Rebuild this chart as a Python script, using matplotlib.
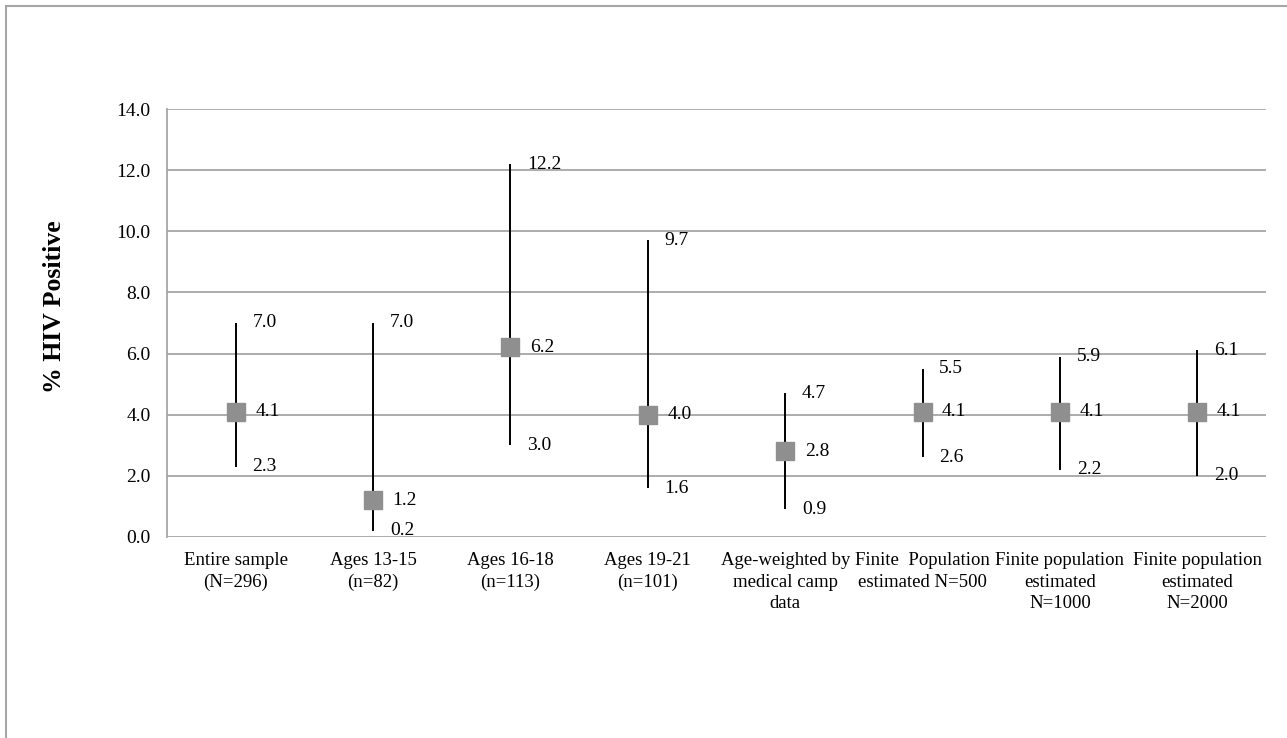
import matplotlib
matplotlib.use("Agg")
import matplotlib.pyplot as plt
from matplotlib.patches import Rectangle
import numpy as np

categories = [
    "Entire sample\n(N=296)",
    "Ages 13-15\n(n=82)",
    "Ages 16-18\n(n=113)",
    "Ages 19-21\n(n=101)",
    "Age-weighted by\nmedical camp\ndata",
    "Finite  Population\nestimated N=500",
    "Finite population\nestimated\nN=1000",
    "Finite population\nestimated\nN=2000",
]
means = [4.1, 1.2, 6.2, 4.0, 2.8, 4.1, 4.1, 4.1]
lower = [2.3, 0.2, 3.0, 1.6, 0.9, 2.6, 2.2, 2.0]
upper = [7.0, 7.0, 12.2, 9.7, 4.7, 5.5, 5.9, 6.1]


def main():
    plt.rcParams["font.family"] = ["Liberation Serif", "DejaVu Serif"]

    fig = plt.figure(figsize=(12.87, 7.38), dpi=100)
    ax = fig.add_axes([0.1298, 0.2724, 0.8539, 0.5799])

    x = np.arange(len(categories))
    ax.vlines(x, lower, upper, color="black", linewidth=1.4, zorder=3)
    ax.plot(x, means, linestyle="none", marker="s", markersize=12.5,
            color="#8f8f8f", zorder=4)

    # value labels, offset a little to the right of each whisker
    for xi, m, lo, hi in zip(x, means, lower, upper):
        ax.annotate(f"{hi:.1f}", (xi, hi), xytext=(12, 0), textcoords="offset points",
                    va="center", ha="left", fontsize=14)
        ax.annotate(f"{m:.1f}", (xi, m), xytext=(14, 0), textcoords="offset points",
                    va="center", ha="left", fontsize=14)
        ax.annotate(f"{lo:.1f}", (xi, lo), xytext=(12, 0), textcoords="offset points",
                    va="center", ha="left", fontsize=14)

    ax.set_xlim(-0.5, len(categories) - 0.5)
    ax.set_ylim(0, 14)
    ax.set_yticks(np.arange(0, 14.1, 2))
    ax.set_yticklabels([f"{v:.1f}" for v in np.arange(0, 14.1, 2)], fontsize=14)
    ax.set_xticks(x)
    ax.set_xticklabels(categories, fontsize=13.5, linespacing=1.35)
    ax.tick_params(axis="both", length=0)
    ax.tick_params(axis="y", pad=12)
    ax.tick_params(axis="x", pad=11)

    ax.grid(axis="y", color="#a6a6a6", linewidth=1.3)
    ax.set_axisbelow(True)
    for side in ["top", "right", "bottom"]:
        ax.spines[side].set_visible(False)
    ax.spines["left"].set_color("#a6a6a6")
    ax.spines["left"].set_linewidth(1.3)

    fig.text(0.042, 0.584, "% HIV Positive", rotation=90, fontsize=18.5,
             fontweight="bold", ha="center", va="center")

    # outer frame
    fig.add_artist(Rectangle((6 / 1287, -0.1), 1.2, 1.1 - 6 / 738,
                             transform=fig.transFigure, fill=False,
                             edgecolor="#a6a6a6", linewidth=1.5))

    fig.savefig("out.png", dpi=100)


if __name__ == "__main__":
    main()
